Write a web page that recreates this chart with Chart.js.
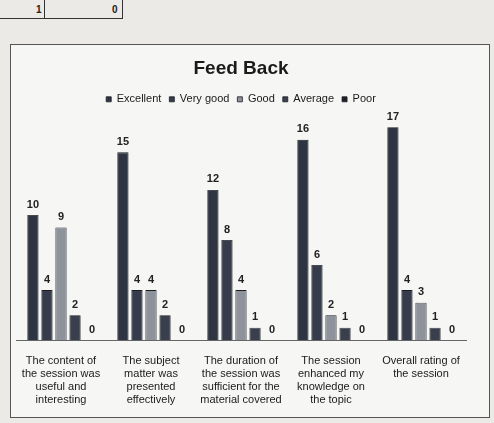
<!DOCTYPE html>
<html>
<head>
<meta charset="utf-8">
<script src="https://cdn.jsdelivr.net/npm/chart.js@4"></script>
<style>
  body { margin: 0; background: #ebeae6; width: 494px; height: 423px; overflow: hidden; position: relative; }
  .tbl { position: absolute; left: 0; top: 0; width: 122px; height: 18px; border-bottom: 1px solid #333; border-right: 1px solid #333; font: bold 10px "Liberation Sans", Arial, sans-serif; color: #222; }
  .tbl .c1 { position: absolute; left: 36px; top: 4px; }
  .tbl .c2 { position: absolute; left: 112px; top: 4px; }
  .tbl .v { position: absolute; left: 44px; top: 0; height: 18px; border-left: 1px solid #333; }
  .box { position: absolute; left: 10px; top: 44px; width: 478px; height: 372px; border: 1px solid #555; background: #f6f6f4; }
</style>
</head>
<body>
<div class="tbl"><span class="c1">1</span><span class="v"></span><span class="c2">0</span></div>
<div class="box"><canvas id="feedbackChart" width="478" height="372"></canvas></div>
<script>
// Feedback chart data
const categories = [
  ["The content of", "the session was", "useful and", "interesting"],
  ["The subject", "matter was", "presented", "effectively"],
  ["The duration of", "the session was", "sufficient for the", "material covered"],
  ["The session", "enhanced my", "knowledge on", "the topic"],
  ["Overall rating of", "the session"]
];
const seriesNames = ["Excellent", "Very good", "Good", "Average", "Poor"];
const excellent = [10, 15, 12, 16, 17];
const veryGood = [4, 4, 8, 6, 4];
const good = [9, 4, 4, 2, 3];
const average = [2, 2, 1, 1, 1];
const poor = [0, 0, 0, 0, 0];
const seriesColors = ["#2f3442", "#363c4b", "#8d929b", "#3a3f4d", "#1d1f24"];

const font = "'Liberation Sans Narrow', 'Liberation Sans', Arial, sans-serif";

// draws the value above each bar
const valueLabels = {
  id: "valueLabels",
  afterDatasetsDraw(chart) {
    const ctx = chart.ctx;
    ctx.save();
    ctx.font = "bold 11px 'Liberation Sans', Arial, sans-serif";
    ctx.fillStyle = "#222";
    ctx.textAlign = "center";
    ctx.textBaseline = "bottom";
    chart.data.datasets.forEach((ds, i) => {
      chart.getDatasetMeta(i).data.forEach((bar, j) => {
        const x = ds.data[j] === 0 ? bar.x + 3 : bar.x;
        ctx.fillText(ds.data[j], x, bar.y - 5);
      });
    });
    ctx.restore();
  }
};

const allSeries = [excellent, veryGood, good, average, poor];

new Chart(document.getElementById("feedbackChart"), {
  type: "bar",
  data: {
    labels: categories,
    datasets: allSeries.map((vals, i) => ({
      label: seriesNames[i],
      data: vals,
      backgroundColor: seriesColors[i],
      borderColor: "#1a1c22",
      borderWidth: 0.8,
      categoryPercentage: 0.78,
      barPercentage: 0.8
    }))
  },
  options: {
    responsive: false,
    animation: false,
    layout: { padding: { left: 5, right: 23, top: 8, bottom: 4 } },
    plugins: {
      title: {
        display: true,
        text: "Feed Back",
        color: "#1a1a1a",
        font: { family: "'Liberation Sans', Arial, sans-serif", size: 19, weight: "bold" },
        padding: { top: 4, bottom: 6 }
      },
      legend: {
        position: "top",
        labels: {
          color: "#1a1a1a",
          font: { family: font, size: 11 },
          boxWidth: 5,
          boxHeight: 5,
          padding: 8
        }
      },
      tooltip: { enabled: false }
    },
    scales: {
      x: {
        grid: { display: false },
        border: { color: "#666" },
        ticks: { color: "#1a1a1a", font: { family: font, size: 11 }, maxRotation: 0, autoSkip: false, padding: 6 }
      },
      y: {
        display: false,
        min: 0,
        max: 18
      }
    }
  },
  plugins: [valueLabels]
});
</script>
</body>
</html>
